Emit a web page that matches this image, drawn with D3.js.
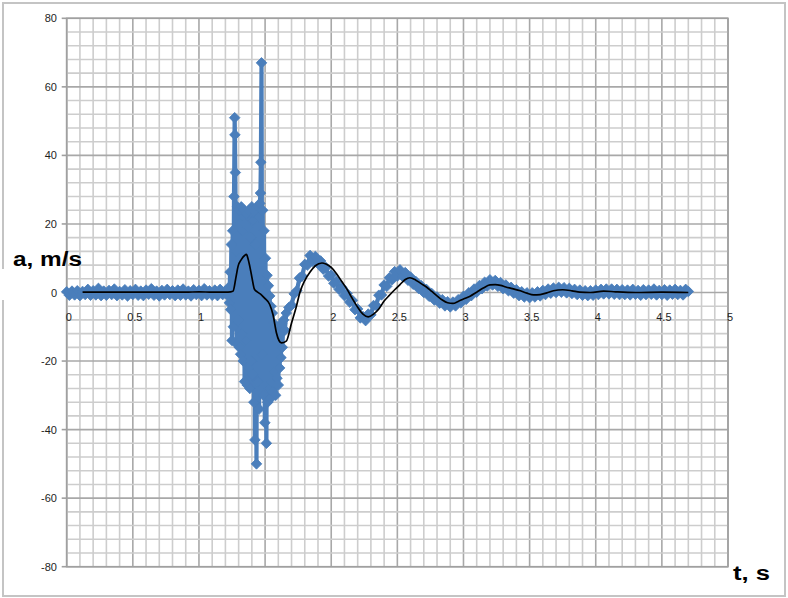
<!DOCTYPE html>
<html>
<head>
<meta charset="utf-8">
<script src="https://cdn.jsdelivr.net/npm/d3@7"></script>
<style>
  html, body { margin: 0; padding: 0; background: #fff; }
  svg { display: block; }
  text { font-family: "Liberation Sans", Arial, sans-serif; }
</style>
</head>
<body>
<svg id="chart" width="788" height="598"></svg>
<script>
// ---------- DATA ----------
const xTicks = [0, 0.5, 1, 1.5, 2, 2.5, 3, 3.5, 4, 4.5, 5];
const xTickLabels = ["0", "0.5", "1", "1.5", "2", "2.5", "3", "3.5", "4", "4.5", "5"];
const yTicks = [80, 60, 40, 20, 0, -20, -40, -60, -80];
const yTickLabels = ["80", "60", "40", "20", "0", "-20", "-40", "-60", "-80"];
const xLabel = "t, s";
const yLabel = "a, m/s";

// raw measured acceleration [t (s), a (m/s)] - before the impact
const rawQuiet = [
  [0.00,0.2],[0.02,-0.8],[0.04,0.4],[0.06,-0.7],[0.08,0.5],[0.10,-0.9],[0.12,0.3],[0.14,-0.6],
  [0.16,0.9],[0.18,-0.8],[0.20,0.5],[0.22,-0.7],[0.24,1.2],[0.26,-0.9],[0.28,0.4],[0.30,-0.8],
  [0.32,0.6],[0.34,-0.6],[0.36,1.0],[0.38,-0.9],[0.40,0.3],[0.42,-0.7],[0.44,0.8],[0.46,-1.0],
  [0.48,0.5],[0.50,-0.6],[0.52,0.9],[0.54,-0.8],[0.56,0.4],[0.58,-0.9],[0.60,0.7],[0.62,-0.5],
  [0.64,1.1],[0.66,-0.8],[0.68,0.4],[0.70,-1.0],[0.72,0.6],[0.74,-0.7],[0.76,0.9],[0.78,-0.6],
  [0.80,0.5],[0.82,-0.9],[0.84,0.7],[0.86,-0.8],[0.88,1.0],[0.90,-0.7],[0.92,0.4],[0.94,-1.0],
  [0.96,0.8],[0.98,-0.6],[1.00,0.6],[1.02,-0.9],[1.04,1.1],[1.06,-0.7],[1.08,0.5],[1.10,-0.8],
  [1.12,0.7],[1.14,-0.9],[1.16,0.9],[1.18,-0.6],[1.20,0.4],[1.22,-1.0]
];
// raw measured acceleration - impact burst
const rawBurst = [
  [1.225,1.5],[1.230,-3],[1.235,6],[1.240,-5],[1.245,14],[1.250,-14],[1.255,18],[1.260,-10],
  [1.265,28],[1.270,51],[1.272,46],[1.275,35],[1.280,12],[1.285,-15],[1.290,25],[1.295,-8],
  [1.300,24],[1.305,-16],[1.310,20],[1.315,-18],[1.320,25],[1.325,-12],[1.330,18],[1.335,-20],
  [1.340,24],[1.345,-26],[1.350,20],[1.355,-14],[1.360,23],[1.365,-27],[1.370,19],[1.375,-22],
  [1.380,24],[1.385,-28],[1.390,16],[1.395,-20],[1.400,25],[1.405,-24],[1.410,21],[1.415,-32],
  [1.420,24],[1.423,-43],[1.428,14],[1.435,-50],[1.440,25],[1.445,-26],[1.450,22],[1.455,-34],
  [1.460,26],[1.465,29],[1.468,38],[1.473,67],[1.478,-18],[1.482,24],[1.487,-30],[1.492,18],
  [1.498,-38],[1.503,10],[1.510,-44],[1.515,5],[1.520,-32],[1.525,2],[1.530,-28],[1.535,-1],
  [1.540,-31],[1.545,-4],[1.550,-26],[1.555,-6],[1.560,-29],[1.565,-9],[1.570,-23],[1.575,-10],
  [1.580,-30],[1.585,-12],[1.590,-25],[1.595,-14],[1.600,-27],[1.605,-12],[1.610,-22],[1.615,-10],
  [1.620,-19],[1.625,-9],[1.630,-16],[1.640,-8],[1.650,-11],[1.660,-6]
];
// raw measured acceleration - decaying oscillation
const rawDecay = [
  [1.68,-4.4],[1.70,-3.7],[1.72,-0.4],[1.74,0.5],[1.76,4.2],[1.78,4.8],[1.80,8.2],[1.82,8.0],
  [1.84,10.8],[1.86,9.1],[1.88,10.5],[1.90,8.4],[1.92,9.2],[1.94,6.8],[1.96,7.3],[1.98,4.8],
  [2.00,5.1],[2.02,2.7],[2.04,3.3],[2.06,0.9],[2.08,1.5],[2.10,-0.9],[2.12,-0.3],[2.14,-2.8],
  [2.16,-2.3],[2.18,-5.0],[2.20,-4.8],[2.22,-7.4],[2.24,-7.0],[2.26,-8.2],[2.28,-6.3],[2.30,-6.5],
  [2.32,-3.8],[2.34,-3.8],[2.36,-0.8],[2.38,-0.7],[2.40,2.2],[2.42,1.8],[2.44,4.3],[2.46,3.7],
  [2.48,6.1],[2.50,4.8],[2.52,6.6],[2.54,4.7],[2.56,5.8],[2.58,3.6],[2.60,4.5],[2.62,2.4],
  [2.64,3.2],[2.66,1.2],[2.68,2.0],[2.70,0.0],[2.72,0.9],[2.74,-1.1],[2.76,-0.3],[2.78,-2.2],
  [2.80,-1.3],[2.82,-3.1],[2.84,-2.1],[2.86,-3.9],[2.88,-2.7],[2.90,-4.2],[2.92,-2.8],[2.94,-3.9],
  [2.96,-2.1],[2.98,-3.0],[3.00,-1.1],[3.02,-2.0],[3.04,-0.1],[3.06,-0.9],[3.08,1.0],[3.10,0.1],
  [3.12,2.0],[3.14,1.1],[3.16,3.0],[3.18,1.9],[3.20,3.7],[3.22,2.2],[3.24,3.5],[3.26,1.8],
  [3.28,2.9],[3.30,1.1],[3.32,2.2],[3.34,0.5],[3.36,1.5],[3.38,-0.2],[3.40,0.8],[3.42,-0.9],
  [3.44,0.2],[3.46,-1.3],[3.48,-0.1],[3.50,-1.5],[3.52,-0.1],[3.54,-1.3],[3.56,0.2],[3.58,-1.0],
  [3.60,0.6],[3.62,-0.6],[3.64,1.0],[3.66,-0.2],[3.68,1.3],[3.70,0.0],[3.72,1.5],[3.74,0.1],
  [3.76,1.4],[3.78,-0.1],[3.80,1.2],[3.82,-0.3],[3.84,0.9],[3.86,-0.6],[3.88,0.7],[3.90,-0.8],
  [3.92,0.5],[3.94,-0.9],[3.96,0.5],[3.98,-0.8],[4.00,0.7],[4.02,-0.6],[4.04,0.9],[4.06,-0.4],
  [4.08,1.0],[4.10,-0.4],[4.12,1.0],[4.14,-0.5],[4.16,0.9],[4.18,-0.6],[4.20,0.8],[4.22,-0.6],
  [4.24,0.7],[4.26,-0.7],[4.28,0.9],[4.30,-0.5],[4.32,0.6],[4.34,-0.8],[4.36,0.8],[4.38,-0.6],
  [4.40,0.7],[4.42,-0.5],[4.44,1.0],[4.46,-0.7],[4.48,0.6],[4.50,-0.6],[4.52,0.8],[4.54,-0.8],
  [4.56,0.7],[4.58,-0.5],[4.60,0.9],[4.62,-0.6],[4.64,0.6],[4.66,-0.7],[4.68,0.9],[4.70,0.3]
];
// smoothed acceleration [t, a]
const smoothed = [
  [0.12,0.1],[0.5,0.1],[0.9,0.1],[1.0,0.2],[1.1,0.1],[1.2,0.1],[1.24,0.2],[1.258,0.4],
  [1.28,4.5],[1.296,7.7],[1.32,9.6],[1.345,10.8],[1.359,11.1],[1.37,10.0],[1.384,7.7],
  [1.40,4.5],[1.42,0.9],[1.44,0.2],[1.47,-0.6],[1.50,-1.8],[1.535,-3.5],[1.56,-6.5],
  [1.586,-11.8],[1.605,-14.0],[1.624,-14.7],[1.66,-14.2],[1.70,-8.9],[1.737,-4.0],
  [1.763,0.0],[1.80,3.5],[1.84,6.0],[1.88,7.8],[1.93,8.6],[1.96,8.3],[2.00,7.3],[2.04,5.5],
  [2.08,3.2],[2.12,0.9],[2.16,-1.8],[2.20,-4.3],[2.24,-6.3],[2.28,-7.1],[2.32,-6.3],
  [2.36,-4.8],[2.40,-2.5],[2.44,-0.8],[2.48,0.8],[2.52,2.3],[2.56,3.8],[2.595,4.3],
  [2.64,3.6],[2.68,2.6],[2.72,1.6],[2.76,0.3],[2.80,-1.0],[2.84,-2.2],[2.88,-3.0],
  [2.92,-3.2],[2.96,-2.6],[3.00,-1.9],[3.05,-1.1],[3.10,0.1],[3.15,1.3],[3.20,2.2],
  [3.24,2.3],[3.28,2.1],[3.32,1.6],[3.36,1.2],[3.43,0.5],[3.48,-0.2],[3.53,-0.7],
  [3.58,-0.6],[3.63,-0.1],[3.68,0.5],[3.75,0.8],[3.82,0.5],[3.88,0.1],[3.96,0.0],
  [4.06,0.4],[4.15,0.2],[4.30,0.0],[4.50,0.1],[4.70,0.0]
];

// ---------- LAYOUT ----------
const W = 788, H = 598;
const x = d3.scaleLinear().domain([0, 5]).range([66.7, 728]);
const y = d3.scaleLinear().domain([-80, 80]).range([566.7, 18.3]);
const svg = d3.select("#chart");

svg.append("rect").attr("width", W).attr("height", H).attr("fill", "#fff");
svg.append("rect").attr("x", 3).attr("y", 3).attr("width", 782).attr("height", 593)
  .attr("fill", "none").attr("stroke", "#c4c4c4").attr("stroke-width", 2);

// grid
const g = svg.append("g");
const minorX = d3.range(0, 51).map(i => i / 10);
const minorY = d3.range(-20, 21).map(i => i * 4);
g.selectAll("line.mx").data(minorX).enter().append("line")
  .attr("x1", d => x(d)).attr("x2", d => x(d)).attr("y1", y(80)).attr("y2", y(-80))
  .attr("stroke", d => (Math.round(d * 10) % 5 === 0) ? "#a8a8a8" : "#cdcdcd")
  .attr("stroke-width", 1.6);
g.selectAll("line.my").data(minorY).enter().append("line")
  .attr("y1", d => y(d)).attr("y2", d => y(d)).attr("x1", x(0)).attr("x2", x(5))
  .attr("stroke", d => (d % 20 === 0) ? "#a8a8a8" : "#cdcdcd")
  .attr("stroke-width", 1.6);

// y ticks (outside)
g.selectAll("line.yt").data(yTicks).enter().append("line")
  .attr("x1", x(0) - 5).attr("x2", x(0)).attr("y1", d => y(d)).attr("y2", d => y(d))
  .attr("stroke", "#a0a0a0").attr("stroke-width", 1.6);
// plot border
g.append("rect").attr("x", x(0)).attr("y", y(80)).attr("width", x(5) - x(0)).attr("height", y(-80) - y(80))
  .attr("fill", "none").attr("stroke", "#a0a0a0").attr("stroke-width", 1.6);

// tick labels
svg.append("g").selectAll("text").data(yTicks).enter().append("text")
  .attr("x", 57).attr("y", d => y(d) + 4)
  .attr("text-anchor", "end").attr("font-size", 11).attr("fill", "#1e1e1e")
  .text((d, i) => yTickLabels[i]);
svg.append("g").selectAll("text").data(xTicks).enter().append("text")
  .attr("x", d => x(d) + 2).attr("y", 321)
  .attr("text-anchor", "middle").attr("font-size", 11).attr("fill", "#1e1e1e")
  .text((d, i) => xTickLabels[i]);

// raw series
const raw = rawQuiet.concat(rawBurst, rawDecay);
const blue = "#4a7ebb";
const line = d3.line().x(d => x(d[0])).y(d => y(d[1]));
svg.append("path").datum(raw).attr("d", line)
  .attr("fill", "none").attr("stroke", blue).attr("stroke-width", 4.2)
  .attr("stroke-linejoin", "round").attr("stroke-linecap", "round");
const marker = d3.symbol().type(d3.symbolSquare).size(56);
svg.append("g").selectAll("path").data(raw).enter().append("path")
  .attr("d", marker)
  .attr("transform", d => `translate(${x(d[0])},${y(d[1])}) rotate(45)`)
  .attr("fill", blue).attr("stroke", blue).attr("stroke-width", 0.8);

// smoothed series
svg.append("path").datum(smoothed)
  .attr("d", d3.line().x(d => x(d[0])).y(d => y(d[1])).curve(d3.curveMonotoneX))
  .attr("fill", "none").attr("stroke", "#000").attr("stroke-width", 1.7);

// axis titles
svg.append("rect").attr("x", 0).attr("y", 269).attr("width", 9).attr("height", 31).attr("fill", "#fff");
svg.append("text").attr("x", 13).attr("y", 266)
  .attr("font-size", 20).attr("font-weight", "bold").attr("fill", "#000")
  .attr("textLength", 69).attr("lengthAdjust", "spacingAndGlyphs")
  .text(yLabel);
svg.append("text").attr("x", 733).attr("y", 580)
  .attr("font-size", 20).attr("font-weight", "bold").attr("fill", "#000")
  .attr("textLength", 37).attr("lengthAdjust", "spacingAndGlyphs")
  .text(xLabel);
</script>
</body>
</html>
